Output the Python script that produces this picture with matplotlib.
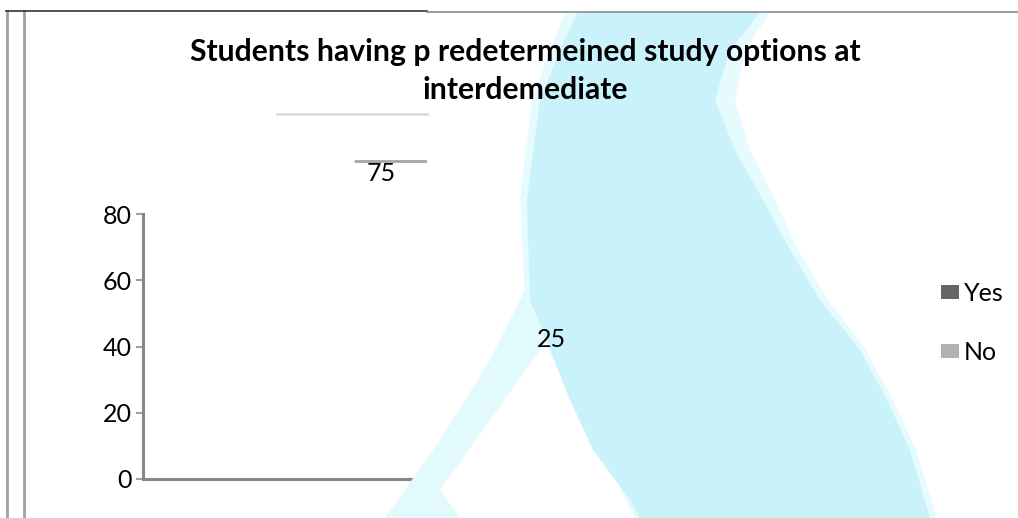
import matplotlib
matplotlib.use('Agg')
import matplotlib.pyplot as plt
from matplotlib.patches import Polygon, Patch, Rectangle
from matplotlib.lines import Line2D
from matplotlib.transforms import Affine2D, offset_copy

series = ['Yes', 'No']
values = [75, 25]
colors = ['#666666', '#b2b2b2']
yticks = [0, 20, 40, 60, 80]
title = 'Students having p redetermeined study options at\ninterdemediate'

plt.rcParams['font.family'] = ['Lato', 'DejaVu Sans']

W, H = 1018, 518
fig = plt.figure(figsize=(W / 100, H / 100), dpi=100)
ax = fig.add_axes([143 / W, 39 / H, 646 / W, 265 / H])

# pixel coords (y down) for the page decoration
pix = Affine2D().scale(1 / W, -1 / H).translate(0, 1) + fig.transFigure

xpos = [-0.25, 0.25]
width = 0.16
# the columns themselves came out blank in the source, only their tops show
ax.bar(xpos, values, width, color='none', linewidth=0)
ax.set_xlim(-0.95, 0.95)
ax.set_ylim(0, 80)

lift = offset_copy(ax.transData, fig=fig, x=0, y=70, units='dots')
for x, v in zip(xpos, values):
    ax.plot([x - width / 2, x + width / 2 + 0.1], [v, v], transform=lift,
            color='#a6a6a6', lw=2, solid_capstyle='butt', clip_on=False)
    ax.annotate(str(v), (x, v), xytext=(0, 57), textcoords='offset pixels',
                ha='center', va='center', fontsize=18, color='black')

ax.set_yticks(yticks)
ax.set_xticks([])
ax.tick_params(axis='y', length=5, width=1.5, color='#a0a0a0', pad=3,
               labelsize=18)
for s in ['top', 'right']:
    ax.spines[s].set_visible(False)
for s in ['left', 'bottom']:
    ax.spines[s].set_color('#868686')
    ax.spines[s].set_linewidth(2.2)

# white sheet + cyan watermark covering the right part of the chart
def sheet(pts, color, z):
    ax.add_patch(Polygon(pts, closed=True, transform=pix, facecolor=color,
                         edgecolor='none', zorder=z, clip_on=False))

ax.add_patch(Rectangle((427, 13), 600, 510, transform=pix, facecolor='white',
                       edgecolor='none', zorder=2.6, clip_on=False))
sheet([(385, 518), (640, 518), (575, 420), (545, 340), (530, 280),
       (490, 360), (440, 440)], '#e3fafd', 2.65)
sheet([(547, 340), (635, 518), (460, 518), (440, 490)], 'white', 2.66)
sheet([(565, 13), (770, 13), (745, 50), (735, 100), (750, 150), (775, 200),
       (798, 250), (828, 300), (866, 350), (893, 400), (916, 450), (937, 518),
       (636, 518), (525, 300), (520, 200), (532, 100), (550, 50)],
      '#e6fbfe', 2.7)
sheet([(577, 13), (760, 13), (730, 50), (715, 100), (735, 150), (763, 200),
       (790, 250), (820, 300), (860, 350), (887, 400), (910, 450), (930, 518),
       (640, 518), (630, 500), (593, 450), (570, 400), (550, 350), (530, 300),
       (527, 200), (540, 100), (560, 50)], '#c9f2fa', 2.8)

handles = [Patch(facecolor=c, edgecolor='none') for c in colors]
ax.legend(handles, series, loc='center left',
          bbox_to_anchor=(941 / W, 1 - 323 / H), bbox_transform=fig.transFigure,
          frameon=False, fontsize=18, handlelength=0.7, handleheight=0.5,
          handletextpad=0.2, labelspacing=1.45, borderpad=0, borderaxespad=0)

fig.text(525 / W, 1 - 71 / H, title, ha='center', va='center', fontsize=21.7,
         fontweight='bold', linespacing=1.4)

# page frame
fig.add_artist(Line2D([7, 7], [11, 518], transform=pix, color='#a0a0a0', lw=2))
fig.add_artist(Line2D([24, 24], [11, 518], transform=pix, color='#a0a0a0', lw=2))
fig.add_artist(Line2D([6, 427], [11, 11], transform=pix, color='#333333', lw=1.2))
fig.add_artist(Line2D([427, W], [12, 12], transform=pix, color='#8a8a8a', lw=1.2))
fig.add_artist(Line2D([277, 427], [114, 114], transform=pix, color='#dddddd', lw=2))

fig.savefig('out.png', dpi=100)
